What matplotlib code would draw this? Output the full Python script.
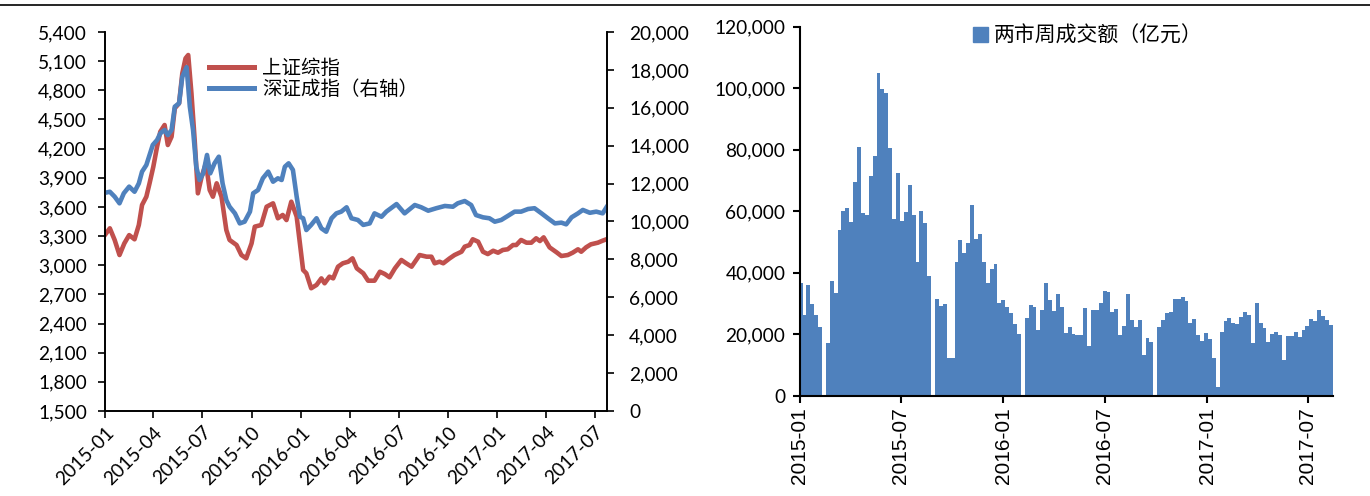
import matplotlib
matplotlib.use("Agg")
import matplotlib.pyplot as plt
import pandas as pd
from matplotlib.ticker import FuncFormatter
from matplotlib.patches import Patch
from matplotlib.lines import Line2D

plt.rcParams['font.family'] = ['Lato', 'Noto Sans CJK SC']

# ---- left panel: index levels (weekly-ish) ----
sh_dates = ['2015-01-02', '2015-01-10', '2015-01-19', '2015-01-28', '2015-02-06', '2015-02-15', '2015-02-25',
            '2015-03-05', '2015-03-11', '2015-03-19', '2015-03-25', '2015-04-01', '2015-04-08', '2015-04-14',
            '2015-04-22', '2015-04-28', '2015-05-05', '2015-05-11', '2015-05-19', '2015-05-25', '2015-05-31',
            '2015-06-05', '2015-06-11', '2015-06-17', '2015-06-23', '2015-06-30', '2015-07-08', '2015-07-15',
            '2015-07-21', '2015-07-28', '2015-08-06', '2015-08-15', '2015-08-21', '2015-09-03', '2015-09-12',
            '2015-09-21', '2015-10-01', '2015-10-07', '2015-10-19', '2015-10-29', '2015-11-10', '2015-11-19',
            '2015-11-28', '2015-12-05', '2015-12-14', '2015-12-24',
            '2016-01-05', '2016-01-11', '2016-01-20', '2016-01-30', '2016-02-08', '2016-02-14', '2016-02-23',
            '2016-03-01', '2016-03-10', '2016-03-19', '2016-03-29', '2016-04-06', '2016-04-14', '2016-04-26',
            '2016-05-05', '2016-05-17', '2016-05-27', '2016-06-05', '2016-06-14', '2016-06-24', '2016-07-06',
            '2016-07-15', '2016-07-25', '2016-08-09', '2016-08-22', '2016-08-31', '2016-09-06', '2016-09-15',
            '2016-09-22', '2016-10-04', '2016-10-13', '2016-10-26', '2016-11-01', '2016-11-10', '2016-11-16',
            '2016-11-26', '2016-12-05', '2016-12-14', '2016-12-24',
            '2017-01-02', '2017-01-11', '2017-01-20', '2017-01-30', '2017-02-05', '2017-02-14', '2017-02-24',
            '2017-03-05', '2017-03-14', '2017-03-21', '2017-03-28', '2017-04-08', '2017-04-21', '2017-04-30',
            '2017-05-12', '2017-05-21', '2017-05-31', '2017-06-06', '2017-06-15', '2017-06-24', '2017-07-07',
            '2017-07-16', '2017-07-23']
sh_vals = [3320, 3380, 3260, 3105, 3225, 3310, 3267, 3414, 3620, 3705, 3843, 4014, 4220, 4374, 4443, 4237,
           4323, 4615, 4666, 4975, 5129, 5163, 4769, 4289, 3740, 3911, 4049, 3774, 3705, 3843, 3705, 3362,
           3260, 3208, 3105, 3071, 3225, 3397, 3414, 3602, 3637, 3483, 3517, 3465, 3654, 3500,
           2951, 2917, 2763, 2797, 2865, 2814, 2882, 2865, 2985, 3020, 3036, 3071, 2968, 2917, 2841, 2841,
           2933, 2910, 2876, 2968, 3054, 3020, 2985, 3105, 3088, 3088, 3020, 3036, 3020, 3071, 3105, 3139,
           3191, 3208, 3267, 3242, 3139, 3115, 3149,
           3129, 3157, 3164, 3208, 3208, 3260, 3232, 3232, 3277, 3249, 3287, 3184, 3133, 3095, 3105, 3129,
           3164, 3139, 3184, 3215, 3232, 3253, 3267]

sz_dates = ['2015-01-02', '2015-01-10', '2015-01-19', '2015-01-28', '2015-02-05', '2015-02-15', '2015-02-25',
            '2015-03-05', '2015-03-11', '2015-03-19', '2015-03-25', '2015-03-31', '2015-04-08', '2015-04-14',
            '2015-04-22', '2015-04-28', '2015-05-05', '2015-05-11', '2015-05-19', '2015-05-25', '2015-06-02',
            '2015-06-08', '2015-06-14', '2015-06-20', '2015-06-26', '2015-07-03', '2015-07-10', '2015-07-16',
            '2015-07-24', '2015-08-01', '2015-08-08', '2015-08-15', '2015-08-21', '2015-08-31', '2015-09-09',
            '2015-09-18', '2015-09-28', '2015-10-04', '2015-10-13', '2015-10-22', '2015-11-01', '2015-11-10',
            '2015-11-19', '2015-11-26', '2015-12-02', '2015-12-09', '2015-12-17', '2015-12-24', '2015-12-30',
            '2016-01-05', '2016-01-11', '2016-01-20', '2016-01-30', '2016-02-08', '2016-02-17', '2016-02-27',
            '2016-03-07', '2016-03-16', '2016-03-26', '2016-04-04', '2016-04-16', '2016-04-26', '2016-05-08',
            '2016-05-17', '2016-05-30', '2016-06-08', '2016-06-27', '2016-07-12', '2016-07-31', '2016-08-12',
            '2016-08-25', '2016-09-09', '2016-09-25', '2016-10-10', '2016-10-19', '2016-11-01', '2016-11-13',
            '2016-11-22', '2016-12-05', '2016-12-17', '2016-12-27',
            '2017-01-08', '2017-01-20', '2017-02-02', '2017-02-14', '2017-02-27', '2017-03-11', '2017-03-24',
            '2017-04-05', '2017-04-18', '2017-04-30', '2017-05-09', '2017-05-19', '2017-05-31', '2017-06-09',
            '2017-06-22', '2017-07-04', '2017-07-16', '2017-07-23']
sz_vals = [11520, 11570, 11310, 10960, 11490, 11840, 11570, 12010, 12630, 12980, 13510, 14040, 14300, 14650,
           14830, 14560, 14830, 16060, 16240, 17640, 18140, 16060, 14830, 12890, 12190, 12540, 13510, 12540,
           13070, 13420, 12010, 11130, 10780, 10430, 9900, 9990, 10520, 11490, 11660, 12280, 12630, 12100,
           12280, 12190, 12890, 13070, 12720, 11310, 10250,
           10170, 9550, 9820, 10170, 9640, 9460, 10170, 10430, 10520, 10750, 10170, 10080, 9820, 9900,
           10430, 10250, 10520, 10920, 10430, 10870, 10750, 10570, 10700, 10820, 10780, 10960, 11080, 10870,
           10340, 10220, 10170, 9990,
           10080, 10290, 10520, 10520, 10660, 10700, 10430, 10170, 9900, 9940, 9850, 10220, 10430, 10610,
           10460, 10520, 10430, 10750]

left_ticks = ['2015-01-01', '2015-04-01', '2015-07-01', '2015-10-01', '2016-01-01', '2016-04-01',
              '2016-07-01', '2016-10-01', '2017-01-01', '2017-04-01', '2017-07-01']

# ---- right panel: weekly turnover of both exchanges (100m yuan) ----
vol_start = '2015-01-02'
vol = [36500, 26200, 36000, 29800, 26200, 22400, 0, 17300, 37300, 33500,
       53900, 60200, 60900, 56600, 69400, 80900, 59400, 58900, 71500, 78000,
       105100, 99800, 98400, 80500, 57400, 72300, 56800, 59800, 68500, 58700,
       43600, 60200, 56300, 38900, 0, 31400, 29300, 29700, 12400, 12200,
       43400, 50600, 46300, 49700, 61900, 51100, 52600, 43400, 36800, 41200,
       42900, 30000, 31100, 28700, 26800, 23200, 20000, 0, 25200, 29500,
       28700, 21400, 27900, 36600, 31100, 27400, 33200, 28700, 20300, 22400,
       20100, 19900, 19700, 28600, 16200, 27900, 27900, 30300, 34000, 33700,
       27100, 28100, 19600, 22700, 33000, 24600, 22200, 24700, 13400, 18900,
       17400, 0, 22200, 24600, 26800, 27100, 31400, 31500, 32200, 30900,
       23500, 25100, 19900, 17900, 20300, 18400, 12200, 2700, 20600, 24300,
       25200, 23500, 23300, 25700, 27100, 26200, 17300, 30300, 23500, 21900,
       17600, 20100, 20700, 19900, 11600, 19400, 19400, 20700, 19200, 21400,
       22700, 24800, 24400, 27900, 25900, 24600, 23000]
vol_dates = pd.date_range(vol_start, periods=len(vol), freq='7D')
right_ticks = ['2015-01-01', '2015-07-01', '2016-01-01', '2016-07-01', '2017-01-01', '2017-07-01']

RED = '#c0504d'
BLUE = '#4f81bd'
comma = FuncFormatter(lambda v, p: '{:,.0f}'.format(v))

fig = plt.figure(figsize=(13.7, 4.96), dpi=100)
fig.add_artist(Line2D([0, 1], [1 - 5 / 496] * 2, color='black', lw=1.2, transform=fig.transFigure))

# left chart
ax1 = fig.add_axes([105 / 1370, 1 - 411 / 496, 502 / 1370, 379 / 496])
ax1.plot(pd.to_datetime(sh_dates), sh_vals, color=RED, lw=3.3)
ax2 = ax1.twinx()
ax2.plot(pd.to_datetime(sz_dates), sz_vals, color=BLUE, lw=3.3)

ax1.set_xlim(pd.Timestamp('2015-01-01'), pd.Timestamp('2017-07-24'))
ax1.set_ylim(1500, 5400)
ax1.set_yticks(range(1500, 5401, 300))
ax2.set_ylim(0, 20000)
ax2.set_yticks(range(0, 20001, 2000))
ax1.yaxis.set_major_formatter(comma)
ax2.yaxis.set_major_formatter(comma)
lt = pd.to_datetime(left_ticks)
ax1.set_xticks(lt)
ax1.set_xticklabels([d.strftime('%Y-%m') for d in lt], rotation=45, ha='right', rotation_mode='anchor')

for a in (ax1, ax2):
    a.spines['top'].set_visible(False)
    for s in ('left', 'right', 'bottom'):
        a.spines[s].set_linewidth(1.2)
    a.tick_params(direction='out', length=5, width=1.2, labelsize=13.8, colors='black')
ax1.tick_params(axis='x', pad=4)
ax1.tick_params(axis='y', pad=8)
ax2.tick_params(axis='y', pad=11)

handles = [Line2D([], [], color=RED, lw=3.6), Line2D([], [], color=BLUE, lw=3.6)]
ax2.legend(handles, ['上证综指', '深证成指（右轴）'], loc='upper left', bbox_to_anchor=(0.208, 0.93),
           frameon=False, fontsize=14, handlelength=2.3, handletextpad=0.4, labelspacing=0.1,
           borderpad=0, borderaxespad=0)

# right chart
ax3 = fig.add_axes([800 / 1370, 1 - 395.7 / 496, 533 / 1370, 368.9 / 496])
ax3.bar(vol_dates, vol, width=7, color=BLUE, linewidth=0)
ax3.set_xlim(pd.Timestamp('2015-01-01'), pd.Timestamp('2017-08-15'))
ax3.set_ylim(0, 120000)
ax3.set_yticks(range(0, 120001, 20000))
ax3.yaxis.set_major_formatter(comma)
rt = pd.to_datetime(right_ticks)
ax3.set_xticks(rt)
ax3.set_xticklabels([d.strftime('%Y-%m') for d in rt], rotation=90, family='Liberation Sans', fontsize=15)
ax3.spines['top'].set_visible(False)
ax3.spines['right'].set_visible(False)
for s in ('left', 'bottom'):
    ax3.spines[s].set_linewidth(1.5)
ax3.tick_params(direction='out', length=5, width=1.5, colors='black')
ax3.tick_params(axis='y', labelsize=13.8, pad=5.5)
ax3.legend([Patch(color=BLUE)], ['两市周成交额（亿元）'], loc='center left', bbox_to_anchor=(0.325, 0.976),
           frameon=False, fontsize=15, handlelength=0.7, handleheight=0.7, handletextpad=0.3,
           borderpad=0, borderaxespad=0)

fig.savefig('out.png', dpi=100)
